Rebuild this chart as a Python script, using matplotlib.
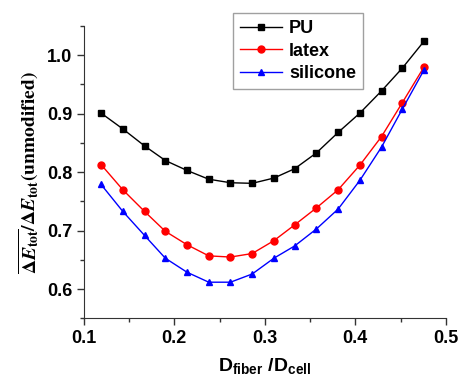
import matplotlib
matplotlib.use('Agg')
import matplotlib.pyplot as plt
from matplotlib.ticker import MultipleLocator

# data
d_ratio = [0.119, 0.143, 0.167, 0.190, 0.214, 0.238, 0.262, 0.286,
           0.310, 0.333, 0.357, 0.381, 0.405, 0.429, 0.452, 0.476]
pu = [0.901, 0.874, 0.845, 0.820, 0.803, 0.788, 0.782, 0.781,
      0.790, 0.806, 0.833, 0.868, 0.901, 0.939, 0.978, 1.024]
latex = [0.813, 0.770, 0.733, 0.699, 0.676, 0.657, 0.655, 0.661,
         0.683, 0.710, 0.739, 0.770, 0.812, 0.861, 0.919, 0.980]
silicone = [0.779, 0.733, 0.692, 0.653, 0.629, 0.612, 0.612, 0.626,
            0.653, 0.674, 0.703, 0.737, 0.786, 0.843, 0.908, 0.975]

plt.rcParams['font.family'] = 'Liberation Sans'
plt.rcParams['font.weight'] = 'bold'
# sans bold mathtext for the x label, stix for the y label
plt.rcParams['mathtext.fontset'] = 'custom'
plt.rcParams['mathtext.rm'] = 'Liberation Sans:bold'
plt.rcParams['mathtext.bf'] = 'Liberation Sans:bold'
plt.rcParams['mathtext.it'] = 'Liberation Sans:bold:italic'

fig = plt.figure(figsize=(4.61, 3.76), dpi=100)
ax = fig.add_axes([0.182, 0.153, 0.785, 0.778])

ax.plot(d_ratio, pu, color='black', marker='s', markersize=4.2, linewidth=1.0, label='PU')
ax.plot(d_ratio, latex, color='red', marker='o', markersize=5.0, linewidth=1.0, label='latex')
ax.plot(d_ratio, silicone, color='blue', marker='^', markersize=5.0, linewidth=1.0, label='silicone')

ax.set_xlim(0.1, 0.5)
ax.set_ylim(0.55, 1.05)
ax.xaxis.set_major_locator(MultipleLocator(0.1))
ax.xaxis.set_minor_locator(MultipleLocator(0.05))
ax.yaxis.set_major_locator(MultipleLocator(0.1))
ax.yaxis.set_minor_locator(MultipleLocator(0.05))
ax.tick_params(which='major', direction='out', length=5, width=1, labelsize=13, colors='#333333', labelcolor='black')
ax.tick_params(which='minor', direction='out', length=3, width=1, colors='#333333')
for lab in ax.get_xticklabels() + ax.get_yticklabels():
    lab.set_fontweight('bold')

ax.spines['top'].set_visible(False)
ax.spines['right'].set_visible(False)
ax.spines['left'].set_color('#333333')
ax.spines['bottom'].set_color('#333333')

ax.set_xlabel(r'D$_{\mathrm{fiber}}$ /D$_{\mathrm{cell}}$', fontsize=14, fontweight='bold', labelpad=6)
ax.set_ylabel(r'$\overline{\Delta E_{\mathbf{tot}}}/\Delta E_{\mathbf{tot}}$(unmodified)',
              fontsize=14, family='STIXGeneral', fontweight='bold', labelpad=4,
              math_fontfamily='stix')

leg = ax.legend(loc='upper left', bbox_to_anchor=(233 / 461, 1 - 13 / 376),
                bbox_transform=fig.transFigure, borderaxespad=0, fontsize=13,
                fancybox=False, edgecolor='#888888', handlelength=2.3,
                handletextpad=0.4, labelspacing=0.3, borderpad=0.4)
leg.get_frame().set_linewidth(1.0)

plt.savefig('out.png', dpi=100)
